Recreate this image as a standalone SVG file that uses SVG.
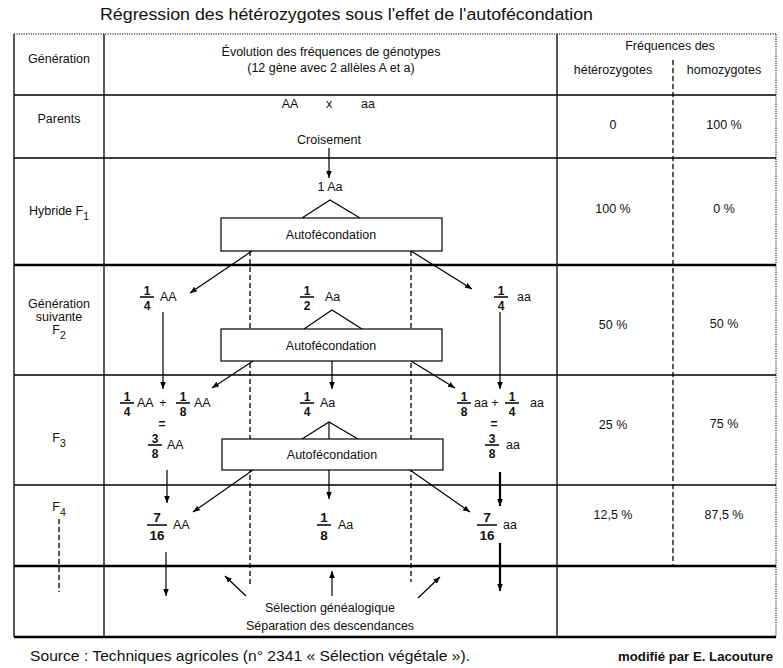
<svg xmlns="http://www.w3.org/2000/svg" width="783" height="668" viewBox="0 0 783 668">
<style>
text{font-family:"Liberation Sans",Arial,sans-serif;font-size:12.5px;fill:#111}
.c{text-anchor:middle}
.t{font-size:16px}
.src{font-size:14.5px}
.mod{font-size:13px;font-weight:bold}
.fr{font-weight:bold;text-anchor:middle;font-size:12px}
.f4{font-size:13.5px}
.sub{font-size:10.5px}
.g{stroke:#000;fill:none}
.thin{stroke-width:1.3}
.thick{stroke-width:2.4}
.dot{stroke-dasharray:1.2 1.2;stroke-width:1}
.dash{stroke:#000;stroke-dasharray:5 3;stroke-width:1.3;fill:none}
.ln{stroke:#000;stroke-width:1.2;fill:none}
.bl{stroke-width:2.2}
.ar{marker-end:url(#ah)}
.box{fill:#fff;stroke:#000;stroke-width:1.2}
.fb{stroke:#000;stroke-width:1.5}
</style>
<defs>
<marker id="ah" viewBox="0 0 10 10" refX="10" refY="5" markerWidth="7" markerHeight="7" markerUnits="userSpaceOnUse" orient="auto"><path d="M0,1 L10,5 L0,9 z" fill="#000"/></marker>
</defs>
<rect width="783" height="668" fill="#fff"/>

<text class="t" x="100" y="20" textLength="493" lengthAdjust="spacingAndGlyphs">Régression des hétérozygotes sous l'effet de l'autofécondation</text>

<g id="grid">
<line class="g dot" x1="14" y1="34" x2="776" y2="34"/>
<line class="g dot" x1="776" y1="34" x2="776" y2="637"/>
<line class="g thin" x1="14" y1="34" x2="14" y2="637"/>
<line class="g thin" x1="104" y1="34" x2="104" y2="637"/>
<line class="g thin" x1="557" y1="34" x2="557" y2="637"/>
<line class="dash" x1="673" y1="60" x2="673" y2="566"/>
<line class="g thin" x1="14" y1="95" x2="776" y2="95"/>
<line class="g thin" x1="14" y1="158" x2="776" y2="158"/>
<line class="g thick" x1="14" y1="265" x2="776" y2="265"/>
<line class="g thin" x1="14" y1="375" x2="776" y2="375"/>
<line class="g thin" x1="14" y1="485" x2="776" y2="485"/>
<line class="g thick" x1="14" y1="566" x2="776" y2="566"/>
<line class="g thick" x1="14" y1="637" x2="776" y2="637"/>
<line class="dash" x1="59" y1="519" x2="59" y2="592"/>
</g>

<g id="header">
<text class="c" x="59" y="63">Génération</text>
<text class="c" x="331" y="56">Évolution des fréquences de génotypes</text>
<text class="c" x="331" y="72">(12 gène avec 2 allèles A et a)</text>
<text class="c" x="670" y="50">Fréquences des</text>
<text class="c" x="613" y="74">hétérozygotes</text>
<text class="c" x="724" y="74">homozygotes</text>
</g>

<g id="gen-labels">
<text class="c" x="59" y="123">Parents</text>
<text class="c" x="59" y="215">Hybride F<tspan class="sub" dy="5">1</tspan></text>
<text class="c" x="59" y="308">Génération</text>
<text class="c" x="59" y="321">suivante</text>
<text class="c" x="59" y="334">F<tspan class="sub" dy="5">2</tspan></text>
<text class="c" x="59" y="442">F<tspan class="sub" dy="5">3</tspan></text>
<text class="c" x="59" y="511">F<tspan class="sub" dy="5">4</tspan></text>
</g>

<g id="freqs">
<text class="c" x="613" y="129">0</text><text class="c" x="724" y="129">100 %</text>
<text class="c" x="613" y="213">100 %</text><text class="c" x="724" y="213">0 %</text>
<text class="c" x="613" y="329">50 %</text><text class="c" x="724" y="328">50 %</text>
<text class="c" x="613" y="429">25 %</text><text class="c" x="724" y="428">75 %</text>
<text class="c" x="613" y="519">12,5 %</text><text class="c" x="724" y="519">87,5 %</text>
</g>

<g id="connectors">
<line class="ln ar" x1="329" y1="148" x2="329" y2="178"/>
<polyline class="ln" points="302,218 330,200 360,218"/>
<line class="dash" x1="250" y1="251" x2="250" y2="585"/>
<line class="dash" x1="411" y1="251" x2="411" y2="582"/>
<line class="ln ar" x1="252" y1="251" x2="190" y2="293"/>
<line class="ln ar" x1="411" y1="251" x2="472" y2="289"/>
<line class="ln ar" x1="163" y1="312" x2="163" y2="389"/>
<line class="ln ar" x1="500" y1="312" x2="500" y2="389"/>
<polyline class="ln" points="304,329 332,310 362,329"/>
<line class="ln ar" x1="332" y1="361" x2="332" y2="389"/>
<line class="ln ar" x1="253" y1="361" x2="212" y2="388"/>
<line class="ln ar" x1="411" y1="361" x2="455" y2="388"/>
<polyline class="ln" points="302,439 329,422 358,439"/>
<line class="ln" x1="329" y1="422" x2="329" y2="439"/>
<line class="ln ar" x1="167" y1="470" x2="167" y2="503"/>
<line class="ln ar" x1="329" y1="470" x2="329" y2="499"/>
<line class="ln bl ar" x1="500" y1="472" x2="500" y2="506"/>
<line class="ln ar" x1="253" y1="470" x2="193" y2="512"/>
<line class="ln ar" x1="410" y1="470" x2="470" y2="512"/>
<line class="ln ar" x1="166" y1="552" x2="166" y2="596"/>
<line class="ln bl ar" x1="500" y1="543" x2="500" y2="591"/>
<line class="ln ar" x1="332" y1="596" x2="332" y2="571"/>
<line class="ln ar" x1="246" y1="596" x2="225" y2="576"/>
<line class="ln ar" x1="418" y1="598" x2="440" y2="577"/>
</g>

<g id="parents">
<text class="c" x="290" y="108">AA</text>
<text class="c" x="329" y="108">x</text>
<text class="c" x="368" y="108">aa</text>
<text class="c" x="329" y="144">Croisement</text>
</g>

<g id="f1-aa"><text class="c" x="330" y="191">1 Aa</text></g>

<g id="auto1"><rect class="box" x="221" y="218" width="221" height="33"/><text class="c" x="331" y="239">Autofécondation</text></g>
<g id="auto2"><rect class="box" x="221" y="329" width="221" height="32"/><text class="c" x="331" y="350">Autofécondation</text></g>
<g id="auto3"><rect class="box" x="222" y="439" width="221" height="31"/><text class="c" x="332" y="459">Autofécondation</text></g>

<g id="f2-AA"><text class="fr" x="147" y="295">1</text><line class="fb" x1="140" y1="297" x2="154" y2="297"/><text class="fr" x="147" y="310">4</text><text x="160" y="301">AA</text></g>
<g id="f2-Aa"><text class="fr" x="307" y="295">1</text><line class="fb" x1="300" y1="297" x2="314" y2="297"/><text class="fr" x="307" y="310">2</text><text x="325" y="301">Aa</text></g>
<g id="f2-aa"><text class="fr" x="501" y="295">1</text><line class="fb" x1="494" y1="297" x2="508" y2="297"/><text class="fr" x="501" y="310">4</text><text x="517" y="301">aa</text></g>

<g id="f3-AA">
<text class="fr" x="127" y="401">1</text><line class="fb" x1="120" y1="403" x2="134" y2="403"/><text class="fr" x="127" y="416">4</text><text x="137" y="407">AA</text>
<text class="c" x="163" y="407">+</text>
<text class="fr" x="183" y="401">1</text><line class="fb" x1="176" y1="403" x2="190" y2="403"/><text class="fr" x="183" y="416">8</text><text x="194" y="407">AA</text>
<text class="fr" x="162" y="428">=</text>
<text class="fr" x="155" y="443">3</text><line class="fb" x1="148" y1="445" x2="162" y2="445"/><text class="fr" x="155" y="458">8</text><text x="167" y="449">AA</text>
</g>
<g id="f3-Aa"><text class="fr" x="307" y="401">1</text><line class="fb" x1="300" y1="403" x2="314" y2="403"/><text class="fr" x="307" y="416">4</text><text x="320" y="407">Aa</text></g>
<g id="f3-aa">
<text class="fr" x="464" y="401">1</text><line class="fb" x1="457" y1="403" x2="471" y2="403"/><text class="fr" x="464" y="416">8</text><text x="474" y="407">aa</text>
<text class="c" x="495" y="407">+</text>
<text class="fr" x="512" y="401">1</text><line class="fb" x1="505" y1="403" x2="519" y2="403"/><text class="fr" x="512" y="416">4</text><text x="530" y="407">aa</text>
<text class="fr" x="494" y="428">=</text>
<text class="fr" x="492" y="443">3</text><line class="fb" x1="485" y1="445" x2="499" y2="445"/><text class="fr" x="492" y="458">8</text><text x="506" y="449">aa</text>
</g>

<g id="f4-AA"><text class="fr f4" x="157" y="522">7</text><line class="fb" x1="147" y1="525" x2="167" y2="525"/><text class="fr f4" x="157" y="540">16</text><text x="173" y="529">AA</text></g>
<g id="f4-Aa"><text class="fr f4" x="324" y="522">1</text><line class="fb" x1="317" y1="525" x2="331" y2="525"/><text class="fr f4" x="324" y="540">8</text><text x="338" y="529">Aa</text></g>
<g id="f4-aa"><text class="fr f4" x="487" y="522">7</text><line class="fb" x1="477" y1="525" x2="497" y2="525"/><text class="fr f4" x="487" y="540">16</text><text x="503" y="529">aa</text></g>

<g id="selection">
<text class="c" x="330" y="612">Sélection généalogique</text>
<text class="c" x="330" y="630">Séparation des descendances</text>
</g>

<text class="src" x="30" y="661" textLength="440" lengthAdjust="spacingAndGlyphs">Source : Techniques agricoles (n° 2341 « Sélection végétale »).</text>
<text class="mod" x="618" y="661" textLength="155" lengthAdjust="spacingAndGlyphs">modifié par E. Lacouture</text>
</svg>
